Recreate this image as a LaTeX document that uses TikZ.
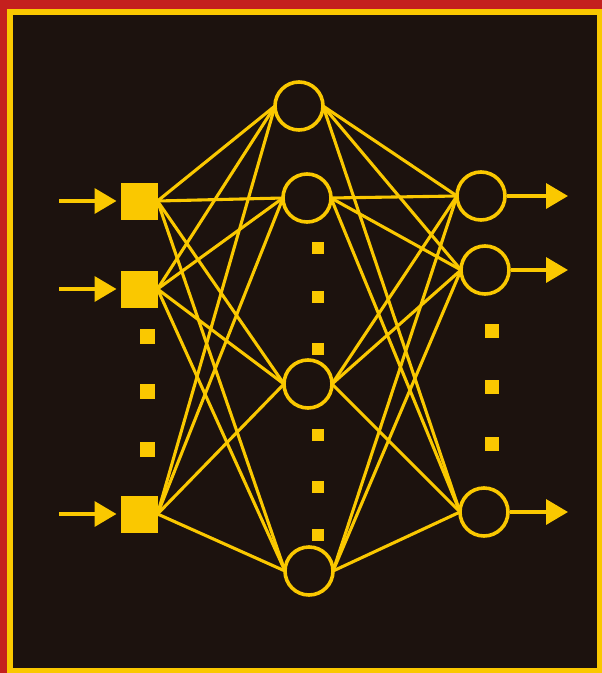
\documentclass[tikz,border=0pt]{standalone}
\usetikzlibrary{arrows.meta}
\definecolor{bgdark}{RGB}{28,18,14}
\definecolor{nyellow}{RGB}{250,200,0}
\definecolor{fred}{RGB}{196,32,30}
\begin{document}
\begin{tikzpicture}[x=1pt,y=-1pt,
  inbox/.style={fill=nyellow,draw=none,minimum size=37pt,inner sep=0pt,outer sep=0pt},
  neuron/.style={circle,draw=nyellow,line width=3.6pt,minimum size=48pt,inner sep=0pt,outer sep=0pt},
  dotbig/.style={fill=nyellow,draw=none,minimum size=15pt,inner sep=0pt},
  dotmid/.style={fill=nyellow,draw=none,minimum size=14pt,inner sep=0pt},
  dotsmall/.style={fill=nyellow,draw=none,minimum size=11.5pt,inner sep=0pt},
  link/.style={draw=nyellow,line width=3.1pt},
  flow/.style={draw=nyellow,line width=3.6pt,-{Triangle[length=22pt,width=25pt]}}]
\useasboundingbox (0,0) rectangle (602,673);
\fill[fred] (0,0) rectangle (602,673);
\fill[nyellow] (7,9) rectangle (602,673);
\fill[bgdark] (13,15) rectangle (597,668);
% input units
\node[inbox] (in1) at (139,201) {};
\node[inbox] (in2) at (139,289) {};
\node[inbox] (in3) at (139,514) {};
% hidden units
\node[neuron] (h1) at (299,106) {};
\node[neuron] (h2) at (307,198) {};
\node[neuron] (h3) at (308,384) {};
\node[neuron] (h4) at (309,571) {};
% output units
\node[neuron] (o1) at (481,196) {};
\node[neuron] (o2) at (485,270) {};
\node[neuron] (o3) at (484,512) {};
% ellipsis dots
\node[dotbig] (di1) at (147,336) {};
\node[dotbig] (di2) at (147,391) {};
\node[dotbig] (di3) at (147,449) {};
\node[dotsmall] (dh1) at (318,248) {};
\node[dotsmall] (dh2) at (318,297) {};
\node[dotsmall] (dh3) at (318,349) {};
\node[dotsmall] (dh4) at (318,435) {};
\node[dotsmall] (dh5) at (318,487) {};
\node[dotsmall] (dh6) at (318,535) {};
\node[dotmid] (do1) at (492,331) {};
\node[dotmid] (do2) at (492,387) {};
\node[dotmid] (do3) at (492,444) {};
% connections
\foreach \i in {in1,in2,in3}{
  \foreach \h in {h1,h2,h3,h4}{
    \draw[link] (\i.east) -- (\h.west);
  }
}
\foreach \h in {h1,h2,h3,h4}{
  \foreach \o in {o1,o2,o3}{
    \draw[link] (\h.east) -- (\o.west);
  }
}
% input/output arrows
\coordinate (a1) at (59,201);
\coordinate (a2) at (59,289);
\coordinate (a3) at (59,514);
\draw[flow] (a1) -- ([xshift=-4pt]in1.west);
\draw[flow] (a2) -- ([xshift=-4pt]in2.west);
\draw[flow] (a3) -- ([xshift=-4pt]in3.west);
\coordinate (b1) at (568,196);
\coordinate (b2) at (568,270);
\coordinate (b3) at (568,512);
\draw[flow] ([xshift=1.5pt]o1.east) -- (b1);
\draw[flow] ([xshift=1.5pt]o2.east) -- (b2);
\draw[flow] ([xshift=1.5pt]o3.east) -- (b3);
\end{tikzpicture}
\end{document}
